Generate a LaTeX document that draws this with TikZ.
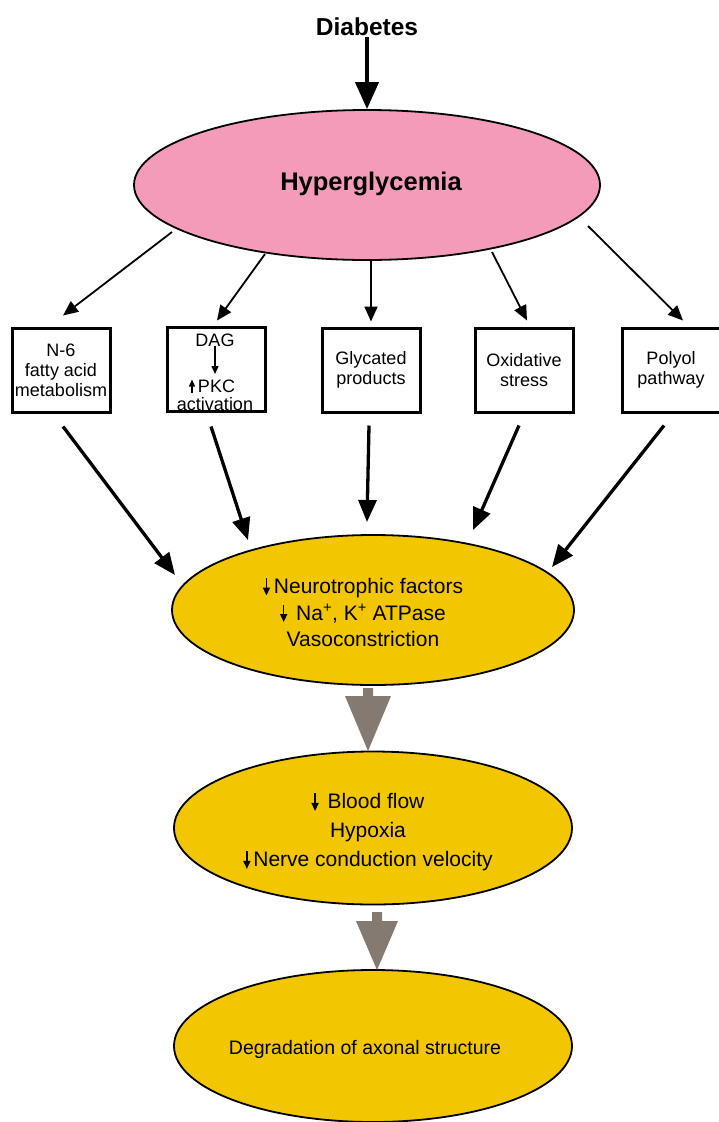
\documentclass[tikz,border=0pt]{standalone}
\usepackage{fontspec}
\setmainfont{Liberation Sans}
\usetikzlibrary{shapes.geometric,arrows.meta,calc}
\definecolor{hypink}{HTML}{F49BB9}
\definecolor{gold}{HTML}{F2C600}
\definecolor{taupe}{HTML}{847A72}
\newcommand{\dnarr}{\tikz[baseline=0pt,x=1pt,y=1pt]\draw[black,line width=1.5pt,-{Triangle[length=8pt,width=7pt]}] (0,15.5) -- (0,-2);}
\newcommand{\uparr}{\tikz[baseline=0pt,x=1pt,y=1pt]\draw[black,line width=1.4pt,-{Triangle[length=7pt,width=6pt]}] (0,0) -- (0,13);}
\begin{document}
\begin{tikzpicture}[x=1pt,y=-1pt,
  oval/.style={ellipse, draw=black, line width=1.8pt, inner sep=0pt},
  boxnode/.style={rectangle, draw=black, line width=3pt, minimum width=98pt, minimum height=84pt, inner sep=0pt, align=center, font=\fontsize{18}{20}\selectfont},
  boxtxt/.style={inner sep=0pt, font=\fontsize{18}{20}\selectfont},
  thinarr/.style={line width=1.8pt, -{Triangle[length=15pt,width=13pt]}},
  thickarr/.style={line width=3.3pt, -{Triangle[length=22pt,width=18pt]}},
  grayarr/.style={fill=taupe, draw=none}]
\useasboundingbox (0,0) rectangle (719,1122);

% top
\node[font=\bfseries\fontsize{24.5}{28}\selectfont, inner sep=0pt] (dia) at (367,27) {Diabetes};
\node[oval, fill=hypink, minimum width=466pt, minimum height=150pt] (hyp) at (367,185) {};
\node[font=\bfseries\fontsize{25.5}{30}\selectfont, inner sep=0pt] (hyptxt) at (371,184) {Hyperglycemia};
\draw[line width=4pt, -{Triangle[length=27pt,width=23pt]}] ([yshift=-1pt]dia.south) -- (hyp.north);

% boxes
\node[boxnode] (b1) at (61,370) {N-6\\fatty acid\\metabolism};
\node[boxnode] (b2) at (216,369) {};
\node[boxnode] (b3) at (371,370) {Glycated\\products};
\node[boxnode] (b4) at (524,370) {Oxidative\\stress};
\node[boxnode] (b5) at (671,370) {Polyol\\pathway};

\node[boxtxt] (dag) at (215,340) {DAG};
\node[boxtxt] (pkc) at (212,386) {\uparr\,PKC};
\node[boxtxt] (act) at (215,404) {activation};
\coordinate (dagarr) at (215,374);
\draw[line width=1.4pt, -{Triangle[length=8pt,width=7pt]}] ([yshift=1pt]dag.south) -- (dagarr);

% thin arrows from hyperglycemia
\coordinate (s1) at (172,232);
\coordinate (s2) at (265,254);
\coordinate (s3) at (371,260);
\coordinate (s4) at (492,252);
\coordinate (s5) at (588,226);
\draw[thinarr] (s1) -- ($(b1.north)+(2,-11)$);
\draw[thinarr] (s2) -- ($(b2.north)+(1,-5)$);
\draw[thinarr] (s3) -- ($(b3.north)+(0,-5)$);
\draw[thinarr] (s4) -- ($(b4.north)+(3,-6)$);
\draw[thinarr] (s5) -- ($(b5.north)+(12,-6)$);

% middle ellipse
\node[oval, fill=gold, minimum width=402pt, minimum height=150pt] (e2) at (373,610) {};
\node[align=center, inner sep=0pt, font=\fontsize{21}{26.5}\selectfont] (e2txt) at (363,612)
  {\dnarr\hspace{4pt}Neurotrophic factors\\ \dnarr\hspace{9pt}Na\textsuperscript{+}, K\textsuperscript{+} ATPase\\ Vasoconstriction};

% thick arrows into middle ellipse
\coordinate (t1) at (175,575);
\coordinate (t2) at (248,540);
\coordinate (t3) at (367,522);
\coordinate (t4) at (473,530);
\coordinate (t5) at (552,567);
\draw[thickarr] ($(b1.south)+(2,13)$) -- (t1);
\draw[thickarr] ($(b2.south)+(-5,14)$) -- (t2);
\draw[thickarr] ($(b3.south)+(-2,12)$) -- (t3);
\draw[thickarr] ($(b4.south)+(-5,12)$) -- (t4);
\draw[thickarr] ($(b5.south)+(-7,12)$) -- (t5);

% second ellipse
\node[oval, fill=gold, minimum width=398pt, minimum height=153pt] (e3) at (373,828) {};
\node[align=center, inner sep=0pt, font=\fontsize{21}{29}\selectfont] (e3txt) at (368,832)
  {\dnarr\hspace{9pt}Blood flow\\ Hypoxia\\ \dnarr\hspace{3pt}Nerve conduction velocity};

% third ellipse
\node[oval, fill=gold, minimum width=398pt, minimum height=152pt] (e4) at (373,1046) {};
\node[inner sep=0pt, font=\fontsize{19.5}{23}\selectfont] (e4txt) at (365,1049) {Degradation of axonal structure};

% gray block arrows
\coordinate (g1) at (368,696);
\fill[grayarr] ($(g1)+(-5,-8)$) -- ($(g1)+(5,-8)$) -- ($(g1)+(5,0)$) -- ($(g1)+(23,0)$)
  -- ($(g1)+(0,55)$) -- ($(g1)+(-23,0)$) -- ($(g1)+(-5,0)$) -- cycle;
\coordinate (g2) at (377,921);
\fill[grayarr] ($(g2)+(-5,-9)$) -- ($(g2)+(5,-9)$) -- ($(g2)+(5,0)$) -- ($(g2)+(21,0)$)
  -- ($(g2)+(0,49)$) -- ($(g2)+(-21,0)$) -- ($(g2)+(-5,0)$) -- cycle;
\end{tikzpicture}
\end{document}
